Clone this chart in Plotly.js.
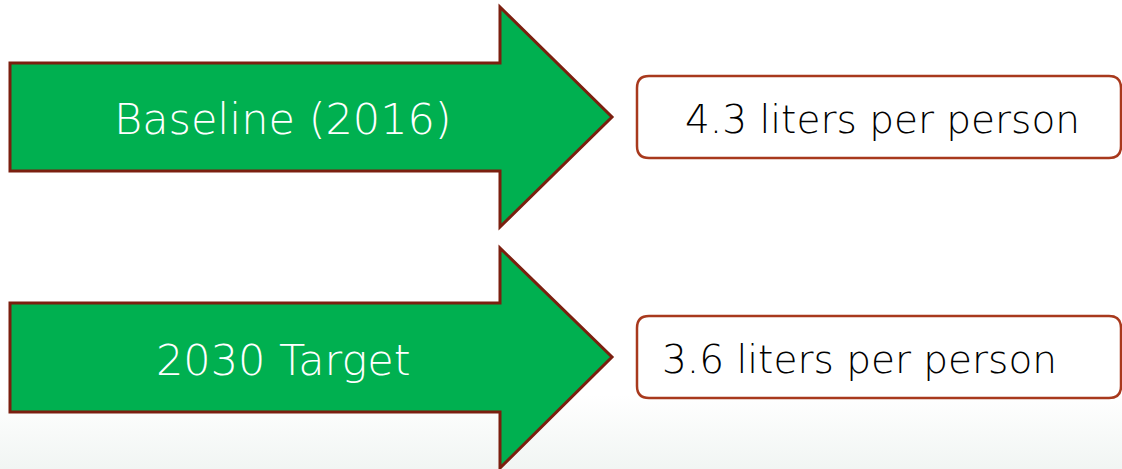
<!DOCTYPE html>
<html>
<head>
<meta charset="utf-8">
<script src="https://cdn.plot.ly/plotly-3.0.1.min.js"></script>
<style>html,body{margin:0;padding:0;background:#fff;}#chart{width:1122px;height:469px;}</style>
</head>
<body>
<div id="chart"></div>
<script>
const categories = ["Baseline (2016)", "2030 Target"];
const values = [4.3, 3.6];
const unitLabel = "liters per person";
const valueLabels = values.map(v => v.toFixed(1) + " " + unitLabel);

// geometry (pixel-like data units)
const rows = [
  {bodyTop: 63, bodyBot: 171, headTop: 7, headBot: 227, tipY: 117, boxTop: 76, boxBot: 158, textX: 882, anchor: 'center'},
  {bodyTop: 303, bodyBot: 412, headTop: 248, headBot: 468, tipY: 357, boxTop: 316, boxBot: 398, textX: 660, anchor: 'left'}
];
const arrowLeft = 10, headX = 500, tipX = 612;
const boxLeft = 637, boxRight = 1121, r = 12;

const shapes = [];
const annotations = [];
rows.forEach((g, i) => {
  const p = `M ${arrowLeft},${g.bodyTop} L ${headX},${g.bodyTop} L ${headX},${g.headTop} L ${tipX},${g.tipY} L ${headX},${g.headBot} L ${headX},${g.bodyBot} L ${arrowLeft},${g.bodyBot} Z`;
  shapes.push({type: 'path', xref: 'x', yref: 'y', path: p, fillcolor: '#00b050', line: {color: '#7b1f0f', width: 3}, layer: 'above'});
  const b = `M ${boxLeft + r},${g.boxTop} L ${boxRight - r},${g.boxTop} Q ${boxRight},${g.boxTop} ${boxRight},${g.boxTop + r} L ${boxRight},${g.boxBot - r} Q ${boxRight},${g.boxBot} ${boxRight - r},${g.boxBot} L ${boxLeft + r},${g.boxBot} Q ${boxLeft},${g.boxBot} ${boxLeft},${g.boxBot - r} L ${boxLeft},${g.boxTop + r} Q ${boxLeft},${g.boxTop} ${boxLeft + r},${g.boxTop} Z`;
  shapes.push({type: 'path', xref: 'x', yref: 'y', path: b, fillcolor: '#ffffff', line: {color: '#a8391d', width: 2.5}, layer: 'above'});
  annotations.push({x: 283, y: (g.bodyTop + g.bodyBot) / 2 + 2, xref: 'x', yref: 'y', text: categories[i], showarrow: false,
    font: {family: '"DejaVu Sans", sans-serif', size: 43, color: '#ffffff', weight: 200}, xanchor: 'center', yanchor: 'middle'});
  annotations.push({x: g.textX, y: (g.boxTop + g.boxBot) / 2 + 2, xref: 'x', yref: 'y', text: valueLabels[i], showarrow: false,
    font: {family: '"DejaVu Sans", sans-serif', size: 39, color: '#000000', weight: 200}, xanchor: g.anchor, yanchor: 'middle'});
});

const bg = {
  x: [0, 1122, 1122, 0, 0], y: [395, 395, 469, 469, 395], type: 'scatter', mode: 'none', fill: 'toself',
  fillgradient: {type: 'vertical', colorscale: [[0, '#f1f5f3'], [1, '#ffffff']]},
  hoverinfo: 'skip', showlegend: false
};

const layout = {
  width: 1122, height: 469,
  margin: {l: 0, r: 0, t: 0, b: 0},
  paper_bgcolor: '#ffffff', plot_bgcolor: 'rgba(0,0,0,0)',
  xaxis: {range: [0, 1122], visible: false, fixedrange: true},
  yaxis: {range: [469, 0], visible: false, fixedrange: true},
  shapes: shapes, annotations: annotations, showlegend: false
};
Plotly.newPlot('chart', [bg], layout, {displayModeBar: false, staticPlot: true});
</script>
</body>
</html>
